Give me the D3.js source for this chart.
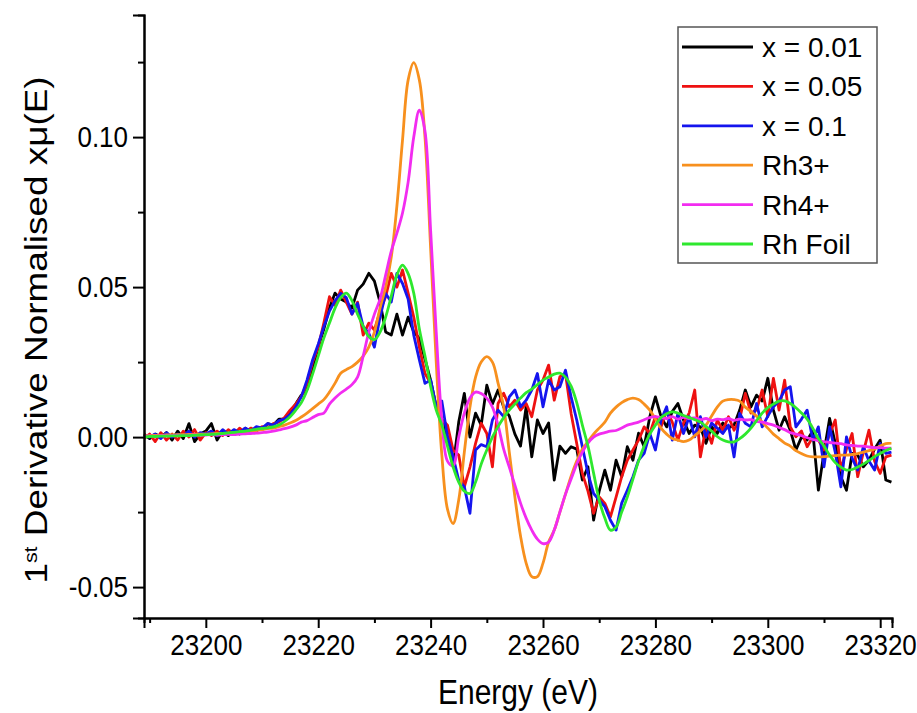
<!DOCTYPE html>
<html>
<head>
<meta charset="utf-8">
<script src="https://cdn.jsdelivr.net/npm/d3@7"></script>
<style>
  html, body { margin: 0; padding: 0; background: #fff; }
  svg { display: block; }
  text { font-family: "Liberation Sans", Arial, sans-serif; fill: #000; }
</style>
</head>
<body>
<svg id="chart" width="917" height="713"></svg>
<script>
// ---------------- data ----------------
const energy = [
  23189,23190,23191,23192,23193,23194,23195,23196,23197,23198,
  23199,23200,23201,23202,23203,23204,23205,23206,23207,23208,
  23209,23210,23211,23212,23213,23214,23215,23216,23217,23218,
  23219,23220,23221,23222,23223,23224,23225,23226,23227,23228,
  23229,23230,23231,23232,23233,23234,23235,23236,23237,23238,
  23239,23240,23241,23242,23243,23244,23245,23246,23247,23248,
  23249,23250,23251,23252,23253,23254,23255,23256,23257,23258,
  23259,23260,23261,23262,23263,23264,23265,23266,23267,23268,
  23269,23270,23271,23272,23273,23274,23275,23276,23277,23278,
  23279,23280,23281,23282,23283,23284,23285,23286,23287,23288,
  23289,23290,23291,23292,23293,23294,23295,23296,23297,23298,
  23299,23300,23301,23302,23303,23304,23305,23306,23307,23308,
  23309,23310,23311,23312,23313,23314,23315,23316,23317,23318,
  23319,23320,23321,23322
];

const x001 = [
  0.001,-0.0005,0.001,0.0,0.0015,-0.001,0.002,-0.0005,0.0045,-0.0015,
  0.001,0.002,0.0045,-0.001,0.002,0.0005,0.002,0.001,0.003,0.0015,
  0.003,0.0025,0.0045,0.004,0.006,0.006,0.0085,0.011,0.014,0.016,
  0.023,0.030,0.036,0.043,0.048,0.046,0.045,0.043,0.049,0.051,
  0.0546,0.052,0.045,0.035,0.034,0.041,0.034,0.040,0.035,0.033,
  0.026,0.019,0.010,0.006,0.0,-0.0099,0.005,0.0146,0.0,0.008,
  0.004,0.0173,0.011,0.0157,0.010,0.007,0.001,-0.003,0.0101,-0.0066,
  0.0057,0.0012,0.0047,-0.0143,-0.003,-0.0054,-0.0032,-0.004,-0.0143,-0.0099,
  -0.0277,-0.018,-0.011,-0.0177,-0.0077,-0.0132,-0.0032,-0.0077,0.0013,-0.0032,
  0.0068,0.0134,0.0068,0.0034,0.0085,0.0112,0.0057,0.0012,0.004,0.0034,
  -0.0021,0.0034,0.0012,0.0047,0.003,0.004,0.009,0.0157,0.0101,0.014,
  0.012,0.0196,0.009,0.0023,0.0068,0.0023,-0.0043,0.0,-0.001,0.002,
  -0.0177,-0.005,0.0062,-0.002,-0.0132,-0.0177,-0.0054,-0.006,-0.0099,-0.0077,
  -0.004,-0.001,-0.0143,-0.015
];

const x005 = [
  -0.0005,0.001,-0.0015,0.0015,-0.001,0.001,-0.001,0.002,0.0,0.0025,
  -0.001,0.0015,0.0005,0.002,0.0005,0.0025,0.001,0.003,0.0015,0.003,
  0.002,0.0035,0.003,0.0045,0.005,0.0065,0.009,0.011,0.0135,0.018,
  0.025,0.030,0.038,0.0468,0.044,0.049,0.045,0.041,0.045,0.034,
  0.038,0.0357,0.042,0.0468,0.0546,0.050,0.0557,0.048,0.040,0.030,
  0.0212,0.018,0.010,0.006,0.004,-0.0043,-0.006,-0.0166,-0.010,-0.0021,
  0.0046,0.0012,-0.0099,0.0112,0.0146,0.0101,0.0123,0.009,0.0112,0.0068,
  0.0157,0.019,0.024,0.0123,0.0201,0.0212,0.0079,-0.0021,-0.0121,-0.018,
  -0.0254,-0.0199,-0.0221,-0.0266,-0.020,-0.0132,-0.0077,-0.0043,-0.001,0.0034,
  0.0012,0.0068,0.0034,0.009,0.005,-0.001,0.0047,0.008,0.0157,-0.0066,
  0.0034,-0.0021,0.0057,0.0023,0.0068,0.0023,0.006,0.0146,0.008,0.009,
  0.0157,0.0068,0.0196,0.009,0.019,0.0034,0.0001,0.002,-0.0032,0.0,
  -0.001,-0.0043,0.001,0.0057,-0.011,-0.004,0.0012,-0.0132,-0.005,0.0023,
  -0.008,-0.0121,-0.0066,-0.006
];

const x01 = [
  0.0005,0.0,0.001,-0.0005,0.0015,0.0,0.001,0.0005,0.002,0.0,
  0.0015,0.001,0.002,0.0005,0.0025,0.001,0.0025,0.0015,0.003,0.002,
  0.0035,0.003,0.0045,0.004,0.0055,0.006,0.0075,0.010,0.0135,0.019,
  0.0257,0.031,0.0368,0.042,0.0455,0.0479,0.0465,0.041,0.0446,0.0368,
  0.0346,0.030,0.040,0.0479,0.045,0.0546,0.0512,0.046,0.034,0.0257,
  0.0179,0.019,0.0101,0.012,0.0001,-0.0066,-0.0143,-0.0166,-0.0254,-0.0043,
  -0.0025,-0.0032,0.0057,0.009,0.0068,0.0134,0.0157,0.0101,0.0123,0.0157,
  0.0212,0.0101,0.019,0.0157,0.0168,0.0223,0.0134,0.0057,-0.0032,-0.0121,
  -0.0188,-0.021,-0.0232,-0.0277,-0.031,-0.022,-0.0177,-0.0132,-0.0077,-0.0054,
  0.0012,-0.0043,0.0057,0.0101,-0.001,0.0079,0.0012,0.0068,0.0001,0.0068,
  0.0001,0.0047,0.003,0.0012,0.004,-0.0066,0.0079,0.0046,0.0034,0.0112,
  0.0034,0.007,0.0101,0.012,0.0157,0.0168,0.0034,0.006,0.009,-0.001,
  0.0034,-0.0099,0.0034,-0.005,-0.0166,0.0001,-0.007,-0.011,-0.0032,-0.008,
  -0.011,-0.0021,-0.0054,-0.005
];

const rh3 = [
  0.0005,0.0005,0.0006,0.0006,0.0007,0.0007,0.0008,0.0008,0.0009,0.0009,
  0.001,0.001,0.0011,0.0012,0.0012,0.0013,0.0015,0.0016,0.0018,0.002,
  0.0022,0.0025,0.0028,0.003,0.0035,0.004,0.0047,0.0055,0.0067,0.008,
  0.0095,0.011,0.0125,0.015,0.018,0.0213,0.0225,0.0235,0.025,0.027,
  0.030,0.035,0.043,0.050,0.060,0.077,0.099,0.119,0.1248,0.119,
  0.100,0.063,0.025,-0.006,-0.024,-0.0288,-0.021,-0.005,0.010,0.020,
  0.025,0.0268,0.025,0.018,0.010,-0.005,-0.020,-0.033,-0.042,-0.0465,
  -0.0465,-0.042,-0.035,-0.031,-0.025,-0.019,-0.013,-0.008,-0.004,-0.0015,
  0.001,0.003,0.005,0.008,0.010,0.0115,0.0125,0.013,0.0125,0.011,
  0.009,0.006,0.003,0.001,-0.0005,-0.001,-0.0015,-0.001,0.0005,0.002,
  0.004,0.007,0.010,0.012,0.0125,0.0125,0.012,0.010,0.0085,0.007,
  0.005,0.003,0.001,-0.0005,-0.002,-0.003,-0.0045,-0.0055,-0.0063,-0.0066,
  -0.0066,-0.0065,-0.0063,-0.0062,-0.006,-0.006,-0.0058,-0.0055,-0.005,-0.0045,
  -0.004,-0.003,-0.0022,-0.002
];

const rh4 = [
  0.0003,0.0004,0.0003,0.0005,0.0004,0.0005,0.0006,0.0005,0.0006,0.0007,
  0.0006,0.0007,0.0008,0.0007,0.0008,0.0009,0.0008,0.001,0.0011,0.0012,
  0.0013,0.0015,0.0017,0.002,0.0024,0.0028,0.0033,0.004,0.005,0.0055,
  0.0065,0.0075,0.008,0.011,0.013,0.0147,0.016,0.0175,0.020,0.027,
  0.035,0.041,0.046,0.054,0.062,0.068,0.0747,0.085,0.100,0.109,
  0.102,0.069,0.035,0.006,-0.008,-0.0095,0.000,0.008,0.013,0.015,
  0.0145,0.013,0.010,0.004,-0.004,-0.010,-0.016,-0.022,-0.027,-0.031,
  -0.034,-0.0355,-0.035,-0.031,-0.025,-0.019,-0.014,-0.009,-0.005,-0.002,
  0.000,0.001,0.0015,0.002,0.0022,0.003,0.004,0.0045,0.005,0.0058,
  0.0065,0.0068,0.0065,0.0062,0.0068,0.006,0.0066,0.0062,0.0064,0.0058,
  0.0062,0.0055,0.006,0.0058,0.0062,0.0056,0.006,0.0057,0.0058,0.0052,
  0.005,0.0045,0.004,0.0032,0.0025,0.0015,0.001,0.0005,-0.0002,-0.0008,
  -0.0012,-0.0015,-0.0018,-0.002,-0.0022,-0.0026,-0.0028,-0.003,-0.003,-0.0033,
  -0.0035,-0.0035,-0.0037,-0.0037
];

const rhFoil = [
  0.0,0.0002,0.0002,0.0003,0.0003,0.0004,0.0004,0.0005,0.0005,0.0006,
  0.0007,0.0008,0.0009,0.001,0.0012,0.0014,0.0016,0.0018,0.002,0.0023,
  0.0026,0.0029,0.0031,0.0034,0.004,0.0052,0.0068,0.009,0.0115,0.0155,
  0.021,0.027,0.033,0.038,0.043,0.0465,0.048,0.0455,0.041,0.037,
  0.0335,0.0325,0.035,0.040,0.047,0.054,0.0573,0.0545,0.048,0.036,
  0.027,0.017,0.009,0.004,-0.003,-0.0099,-0.015,-0.018,-0.0188,-0.015,
  -0.009,-0.0043,0.0,0.0035,0.0065,0.009,0.011,0.013,0.0148,0.016,
  0.0175,0.019,0.020,0.021,0.0213,0.020,0.017,0.0115,0.004,-0.003,
  -0.012,-0.021,-0.027,-0.031,-0.030,-0.025,-0.020,-0.014,-0.008,-0.003,
  0.001,0.004,0.0065,0.0078,0.0084,0.008,0.0072,0.0065,0.0058,0.005,
  0.0035,0.002,0.0002,-0.001,-0.0016,-0.0016,-0.0005,0.001,0.003,0.0055,
  0.008,0.0098,0.011,0.012,0.0121,0.0112,0.0098,0.008,0.006,0.003,
  -0.0005,-0.003,-0.006,-0.0085,-0.010,-0.011,-0.0108,-0.010,-0.009,-0.0078,
  -0.0065,-0.0055,-0.0045,-0.0037
];

const seriesNames = ["x = 0.01", "x = 0.05", "x = 0.1", "Rh3+", "Rh4+", "Rh Foil"];
const seriesValues = [x001, x005, x01, rh3, rh4, rhFoil];
const seriesColors = ["#000000", "#ee1111", "#1515ee", "#f7901e", "#f22cf0", "#2ee82e"];
const seriesSmooth = [false, false, false, true, true, true];

const xMajorTicks = [23200, 23220, 23240, 23260, 23280, 23300, 23320];
const xMinorTicks = [23190, 23210, 23230, 23250, 23270, 23290, 23310];
const yMajorTicks = [-0.05, 0.00, 0.05, 0.10];
const yMinorTicks = [-0.025, 0.025, 0.075, 0.125];

const xTitle = "Energy (eV)";
const yTitleMain = " Derivative Normalised xμ(E)";

// ---------------- layout ----------------
const svg = d3.select("#chart");
const plotLeft = 144, plotRight = 892, plotTop = 15, plotBottom = 618;

const x = d3.scaleLinear().domain([23189, 23322.1]).range([plotLeft, plotRight]);
const y = d3.scaleLinear().domain([-0.0603, 0.1407]).range([plotBottom, plotTop]);

// lines
const plot = svg.append("g");
seriesValues.forEach((vals, i) => {
  const pts = energy.map((e, j) => [e, vals[j]]);
  const line = d3.line()
    .x(d => x(d[0]))
    .y(d => y(d[1]))
    .curve(seriesSmooth[i] ? d3.curveCatmullRom.alpha(0.5) : d3.curveLinear);
  plot.append("path")
    .datum(pts)
    .attr("d", line)
    .attr("fill", "none")
    .attr("stroke", seriesColors[i])
    .attr("stroke-width", 2.8)
    .attr("stroke-linejoin", "round");
});

// x axis
const xAxisG = svg.append("g").attr("transform", `translate(0,${plotBottom})`);
xAxisG.append("g").call(d3.axisBottom(x).tickValues(xMinorTicks).tickSize(5).tickFormat(""));
xAxisG.append("g").call(d3.axisBottom(x).tickValues(xMajorTicks).tickSize(10).tickPadding(4).tickFormat(d3.format("d")));
xAxisG.selectAll("path.domain").attr("stroke", "#000").attr("stroke-width", 2);
xAxisG.selectAll(".tick line").attr("stroke", "#000").attr("stroke-width", 2);
xAxisG.selectAll(".tick text")
  .style("font-size", "26px")
  .attr("transform", "scale(1,1.15)")
  .attr("fill", "#000");

// y axis
const fmtY = d => d3.format(".2f")(d).replace("\u2212", "-");
const yAxisG = svg.append("g").attr("transform", `translate(${plotLeft},0)`);
yAxisG.append("g").call(d3.axisLeft(y).tickValues(yMinorTicks).tickSize(6).tickFormat(""));
yAxisG.append("g").call(d3.axisLeft(y).tickValues(yMajorTicks).tickSize(11).tickPadding(5).tickFormat(fmtY));
yAxisG.selectAll("path.domain").attr("stroke", "#000").attr("stroke-width", 2);
yAxisG.selectAll(".tick line").attr("stroke", "#000").attr("stroke-width", 2);
yAxisG.selectAll(".tick text")
  .style("font-size", "26px")
  .attr("transform", "scale(1,1.15)")
  .attr("fill", "#000");

// axis titles
svg.append("text")
  .attr("transform", `translate(${(plotLeft + plotRight) / 2},704) scale(1,1.15)`)
  .attr("text-anchor", "middle")
  .style("font-size", "30px")
  .text(xTitle);

const yt = svg.append("text")
  .attr("transform", "translate(47,330) scale(1,1.19) rotate(-90)")
  .attr("text-anchor", "middle")
  .style("font-size", "31px");
yt.append("tspan").text("1");
yt.append("tspan").attr("baseline-shift", "super").style("font-size", "18px").text("st");
yt.append("tspan").text(yTitleMain);

// legend
const lg = svg.append("g");
lg.append("rect")
  .attr("x", 678).attr("y", 27)
  .attr("width", 199).attr("height", 236)
  .attr("fill", "#fff")
  .attr("stroke", "#555")
  .attr("stroke-width", 1.5);
const legY = d3.scaleLinear().domain([0, 5]).range([47, 244]);
seriesNames.forEach((name, i) => {
  const yy = legY(i);
  lg.append("line")
    .attr("x1", 682).attr("x2", 753)
    .attr("y1", yy).attr("y2", yy)
    .attr("stroke", seriesColors[i])
    .attr("stroke-width", 2.8);
  lg.append("text")
    .attr("x", 762).attr("y", yy)
    .attr("dy", "0.36em")
    .style("font-size", "28px")
    .text(name);
});
</script>
</body>
</html>
